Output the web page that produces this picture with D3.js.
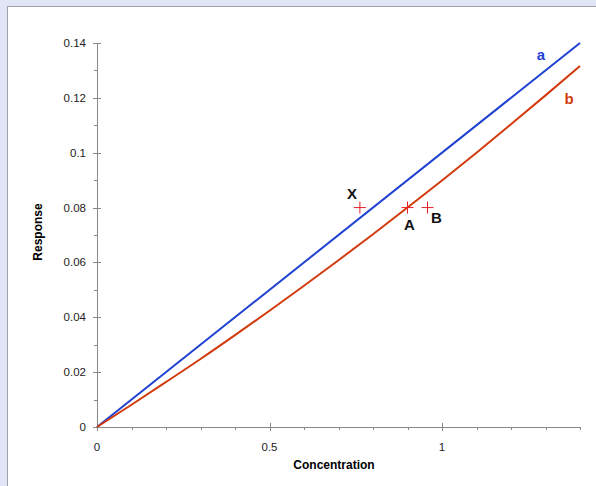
<!DOCTYPE html>
<html>
<head>
<meta charset="utf-8">
<script src="https://cdn.jsdelivr.net/npm/d3@7"></script>
<style>
  body { margin: 0; background: #e1e5f5; }
  svg { display: block; font-family: "Liberation Sans", Arial, sans-serif; }
</style>
</head>
<body>
<svg id="chart" width="596" height="486"></svg>
<script>
// chart data
var concA = [0, 1.4];
var respA = [0, 0.14];

var concB = [0, 0.1, 0.2, 0.3, 0.4, 0.5, 0.6, 0.7, 0.8, 0.9, 1.0, 1.1, 1.2, 1.3, 1.4];
var respB = [0, 0.0081, 0.0164, 0.0248, 0.0335, 0.0424, 0.0515, 0.0608, 0.0703, 0.0800, 0.0899, 0.1000, 0.1104, 0.1209, 0.1316];

var pointNames = ["X", "A", "B"];
var pointConc = [0.762, 0.9, 0.958];
var pointResp = [0.08, 0.08, 0.08];

var xTicks = [0, 0.5, 1];
var yTicks = [0, 0.02, 0.04, 0.06, 0.08, 0.1, 0.12, 0.14];

var svg = d3.select("#chart");

// white panel with grey edge
svg.append("rect")
    .attr("x", 7.5).attr("y", 6.5)
    .attr("width", 600).attr("height", 500)
    .attr("fill", "#fff")
    .attr("stroke", "#a0a0a8");

var x = d3.scaleLinear().domain([0, 1.4]).range([97, 580]);
var y = d3.scaleLinear().domain([0, 0.14]).range([427, 43]);

var axisColor = "#888";

// y axis
var gy = svg.append("g");
gy.append("line")
    .attr("x1", x(0) + 0.5).attr("x2", x(0) + 0.5)
    .attr("y1", y(0)).attr("y2", y(0.14))
    .attr("stroke", axisColor);
gy.selectAll(".ym").data(d3.range(0, 15).map(function(i) { return i * 0.01; }))
  .enter().append("line")
    .attr("x1", function(d, i) { return i % 2 == 0 ? x(0) - 4 : x(0) - 3; })
    .attr("x2", function(d, i) { return i % 2 == 0 ? x(0) + 4 : x(0); })
    .attr("y1", function(d) { return Math.round(y(d)) + 0.5; })
    .attr("y2", function(d) { return Math.round(y(d)) + 0.5; })
    .attr("stroke", axisColor);
gy.selectAll("text").data(yTicks).enter().append("text")
    .attr("x", 86)
    .attr("y", function(d) { return y(d) + 4; })
    .attr("text-anchor", "end")
    .attr("font-size", 11.5)
    .attr("fill", "#222")
    .text(function(d) { return d; });

// x axis
var gx = svg.append("g");
gx.append("line")
    .attr("x1", x(0)).attr("x2", x(1.4))
    .attr("y1", y(0) + 0.5).attr("y2", y(0) + 0.5)
    .attr("stroke", axisColor);
gx.selectAll(".xm").data(d3.range(0, 15).map(function(i) { return i * 0.1; }))
  .enter().append("line")
    .attr("x1", function(d) { return Math.round(x(d)) + 0.5; })
    .attr("x2", function(d) { return Math.round(x(d)) + 0.5; })
    .attr("y1", function(d, i) { return i % 5 == 0 ? y(0) - 4 : y(0); })
    .attr("y2", function(d, i) { return i % 5 == 0 ? y(0) + 4 : y(0) + 3; })
    .attr("stroke", axisColor);
gx.selectAll("text").data(xTicks).enter().append("text")
    .attr("x", function(d) { return x(d); })
    .attr("y", 451)
    .attr("text-anchor", "middle")
    .attr("font-size", 11.5)
    .attr("fill", "#222")
    .text(function(d) { return d; });

// axis titles
svg.append("text")
    .attr("x", 334).attr("y", 469)
    .attr("text-anchor", "middle")
    .attr("font-size", 12).attr("font-weight", "bold")
    .text("Concentration");
svg.append("text")
    .attr("transform", "translate(42,232) rotate(-90)")
    .attr("text-anchor", "middle")
    .attr("font-size", 12).attr("font-weight", "bold")
    .text("Response");

// curves
var line = d3.line()
    .x(function(d) { return x(d[0]); })
    .y(function(d) { return y(d[1]); })
    .curve(d3.curveMonotoneX);

svg.append("path")
    .datum(d3.zip(concA, respA))
    .attr("d", line)
    .attr("fill", "none")
    .attr("stroke", "#1f41d1")
    .attr("stroke-width", 2);

svg.append("path")
    .datum(d3.zip(concB, respB))
    .attr("d", line)
    .attr("fill", "none")
    .attr("stroke", "#d23a0c")
    .attr("stroke-width", 2);

// curve labels
svg.append("text")
    .attr("x", 541).attr("y", 60)
    .attr("text-anchor", "middle")
    .attr("font-size", 15).attr("font-weight", "bold")
    .attr("fill", "#1f41d1")
    .text("a");
svg.append("text")
    .attr("x", 569).attr("y", 104)
    .attr("text-anchor", "middle")
    .attr("font-size", 15).attr("font-weight", "bold")
    .attr("fill", "#d23a0c")
    .text("b");

// points, drawn as red crosses
var pts = svg.append("g");
pointNames.forEach(function(name, i) {
    var cx = x(pointConc[i]), cy = y(pointResp[i]);
    pts.append("line")
        .attr("x1", cx - 6).attr("x2", cx + 6)
        .attr("y1", cy).attr("y2", cy)
        .attr("stroke", "#e8202a");
    pts.append("line")
        .attr("x1", cx).attr("x2", cx)
        .attr("y1", cy - 6).attr("y2", cy + 6)
        .attr("stroke", "#e8202a");
});

// point labels
var labelDx = [-8, 2, 9];
var labelDy = [-9, 22, 15];
pointNames.forEach(function(name, i) {
    svg.append("text")
        .attr("x", x(pointConc[i]) + labelDx[i])
        .attr("y", y(pointResp[i]) + labelDy[i])
        .attr("text-anchor", "middle")
        .attr("font-size", 15).attr("font-weight", "bold")
        .attr("fill", "#111")
        .text(name);
});
</script>
</body>
</html>
